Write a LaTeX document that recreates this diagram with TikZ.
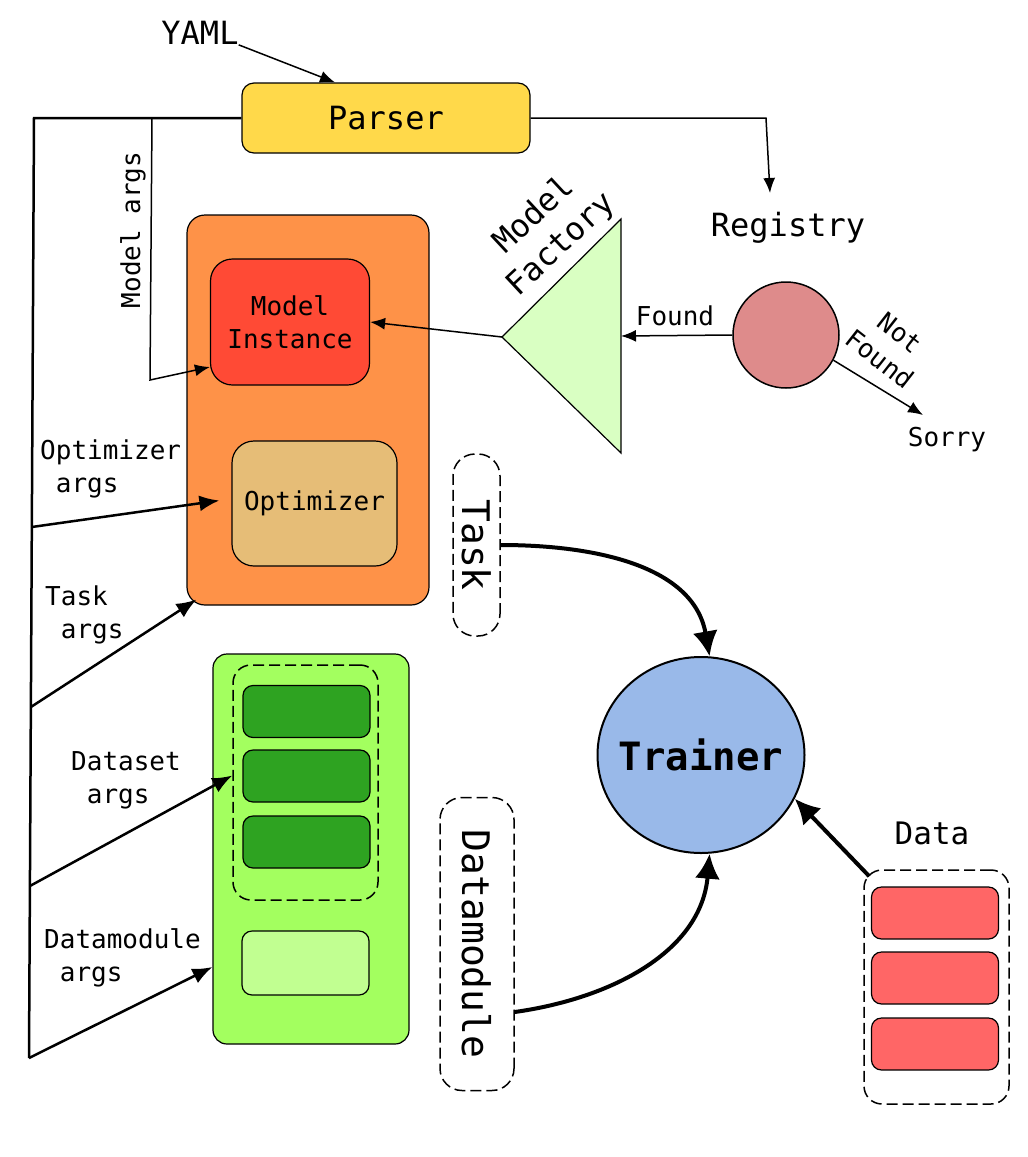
\documentclass[tikz,border=0pt]{standalone}
\usepackage{fontspec}
\setmainfont{DejaVu Sans Mono}
\usetikzlibrary{arrows.meta, shapes.geometric}

\definecolor{parserc}{HTML}{FFD94A}
\definecolor{orangec}{HTML}{FE9248}
\definecolor{instc}{HTML}{FF4A35}
\definecolor{optc}{HTML}{E6BD77}
\definecolor{greenc}{HTML}{A3FF5F}
\definecolor{darkgc}{HTML}{2EA321}
\definecolor{lightgc}{HTML}{C1FF91}
\definecolor{factc}{HTML}{D9FFC2}
\definecolor{regc}{HTML}{DE8B8B}
\definecolor{trainc}{HTML}{99B9E9}
\definecolor{datac}{HTML}{FF6666}

\begin{document}
\begin{tikzpicture}[
  x=1pt, y=1pt,
  box/.style={draw, line width=1.2pt, inner sep=0pt, rounded corners=#1},
  box/.default=12pt,
  dashbox/.style={box=#1, line width=1.5pt, dash pattern=on 11pt off 5pt},
  dashbox/.default=18pt,
  bar/.style={box=10pt, minimum width=127pt, minimum height=52pt},
  pill/.style={dashbox=22pt, rotate=-90, font=\fontsize{38}{44}\selectfont},
  txtS/.style={font=\fontsize{26}{33}\selectfont, align=left, inner sep=0pt},
  txtM/.style={font=\fontsize{32}{38}\selectfont, inner sep=0pt},
  thin/.style={-{Latex[length=15pt,width=12pt]}, line width=1.5pt},
  branch/.style={-{Latex[length=20pt,width=16pt]}, line width=2.5pt},
  heavy/.style={-{Latex[length=25pt,width=25pt]}, line width=4pt}
  ]
  \useasboundingbox (0,0) rectangle (1028,-1157);

  % parser and registry
  \node[txtM] (yaml) at (200,-33) {YAML};
  \node[box, fill=parserc, minimum width=288pt, minimum height=70pt, txtM] (parser) at (386,-118) {Parser};
  \node[txtM] (regtext) at (788,-228) {Registry};
  \node[draw, circle, line width=1.5pt, fill=regc, minimum size=106pt] (reg) at (786,-335) {};
  \node[txtS] (found) at (675,-316) {Found};
  \node[txtS, align=center, rotate=-38] (notfound) at (890,-346) {Not\\Found};
  \node[txtS] (sorry) at (947,-440) {Sorry};

  % model factory
  \coordinate (fapex) at (502,-337);
  \coordinate (ftop) at (621,-219);
  \coordinate (fbot) at (621,-453);
  \coordinate (fbase) at (621,-336);
  \draw[line width=1.2pt, fill=factc] (fapex) -- (ftop) -- (fbot) -- cycle;
  \node[txtS, align=center, rotate=43, font=\fontsize{32}{40}\selectfont] (factlbl) at (548,-230) {Model\\Factory};

  % task module
  \node[box=18pt, fill=orangec, minimum width=242pt, minimum height=390pt] (orange) at (308,-410) {};
  \node[box=22pt, fill=instc, minimum width=159pt, minimum height=126pt, txtS, align=center] (inst) at (290,-322) {Model\\Instance};
  \node[box=22pt, fill=optc, minimum width=165pt, minimum height=125pt, txtS] (opt) at (314.5,-503.5) {Optimizer};

  % datamodule
  \node[box=14pt, fill=greenc, minimum width=196pt, minimum height=390pt] (green) at (311,-849) {};
  \node[dashbox, minimum width=145pt, minimum height=235pt] (dsbox) at (305.5,-782.5) {};
  \foreach \y [count=\i] in {711.5, 776, 842}
    \node[bar, fill=darkgc] (ds\i) at (306.5,-\y) {};
  \node[bar, fill=lightgc, minimum height=64pt] (dmbar) at (305.5,-963) {};

  % trainer side
  \node[pill, minimum width=182pt, minimum height=47pt] (task) at (476.5,-545) {Task};
  \node[pill, minimum width=293pt, minimum height=74pt] (dm) at (477,-944) {Datamodule};
  \node[draw, ellipse, inner sep=0pt, line width=2pt, fill=trainc, minimum width=207pt, minimum height=196pt,
    font=\fontsize{39}{44}\selectfont\bfseries] (trainer) at (701,-755) {\makebox[0pt]{Trainer}};
  \node[txtM, font=\fontsize{31}{36}\selectfont] (datalbl) at (932,-833) {Data};
  \node[dashbox, minimum width=145pt, minimum height=234pt] (databox) at (936.5,-987) {};
  \foreach \y [count=\i] in {913, 978, 1044}
    \node[bar, fill=datac] (data\i) at (935,-\y) {};

  % args labels
  \node[txtS] (margslbl) at (133,-230) [rotate=90] {Model args};
  \node[txtS, anchor=west] (optargs) at (40,-469) {Optimizer\\\hphantom{a}args};
  \node[txtS, anchor=west] (taskargs) at (45,-615) {Task\\\hphantom{a}args};
  \node[txtS, anchor=west] (dsargs) at (71,-780) {Dataset\\\hphantom{a}args};
  \node[txtS, anchor=west] (dmargs) at (44,-958) {Datamodule\\\hphantom{a}args};

  % trunk
  \coordinate (top) at (34,-118);
  \coordinate (bot) at (29,-1058);
  \coordinate (t1) at (31.8,-527);
  \coordinate (t2) at (30.9,-707);
  \coordinate (t3) at (29.9,-886);
  \coordinate (mtop) at (152,-118);
  \coordinate (mbend) at (150,-380);
  \draw[line width=2.5pt] (parser.west) -- (top) -- (bot);
  \draw[thin] (mtop) -- (mbend) -- ([yshift=-45pt]inst.west);
  \draw[branch] (t1) -- ([xshift=-12pt, yshift=3pt]opt.west);
  \draw[branch] (t2) -- ([shift={(10pt,6pt)}]orange.south west);
  \draw[branch] (t3) -- ([yshift=7pt]dsbox.west);
  \draw[branch] (bot) -- ([yshift=-118pt]green.west);

  % connectors
  \coordinate (rturn) at (766,-118);
  \coordinate (rend) at (770,-193);
  \coordinate (sorryin) at (923,-415);
  \draw[thin] (yaml.south east) -- ([xshift=-51pt]parser.north);
  \draw[thin] (parser.east) -- (rturn) -- (rend);
  \draw[thin] (reg.west) -- (fbase);
  \draw[thin] (reg.-28) -- (sorryin);
  \draw[thin] (fapex) -- (inst.east);
  \draw[heavy] (task.north) to[out=0, in=100] (trainer.85);
  \draw[heavy] ([yshift=-68pt]dm.north) to[out=8, in=-95] (trainer.-85);
  \draw[heavy] ([shift={(6pt,-7pt)}]databox.north west) -- (trainer.-25);
\end{tikzpicture}
\end{document}
